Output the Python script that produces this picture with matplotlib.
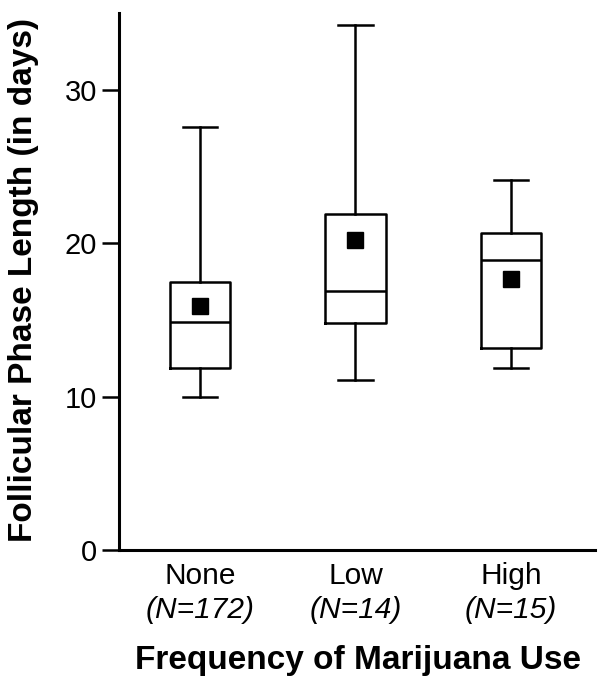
import matplotlib
matplotlib.use('Agg')
import matplotlib.pyplot as plt
from matplotlib.transforms import blended_transform_factory

plt.rcParams['font.family'] = ['Liberation Sans', 'DejaVu Sans']

# Box summary values (days)
groups = ['None', 'Low', 'High']
n_labels = ['(N=172)', '(N=14)', '(N=15)']
whisker_low = [10.0, 11.1, 11.9]
q1 = [11.9, 14.8, 13.2]
medians = [14.9, 16.9, 18.9]
q3 = [17.5, 21.9, 20.7]
whisker_high = [27.6, 34.2, 24.1]
means = [15.9, 20.2, 17.7]

stats = []
for i in range(len(groups)):
    stats.append({'label': groups[i], 'whislo': whisker_low[i], 'q1': q1[i],
                  'med': medians[i], 'q3': q3[i], 'whishi': whisker_high[i],
                  'fliers': []})

fig = plt.figure(figsize=(6.01, 6.88), dpi=100)
ax = fig.add_axes([0.198, 0.200, 0.792, 0.781])

positions = [1, 2, 3]
lw = 1.8
ax.bxp(stats, positions=positions, widths=0.39, showfliers=False,
       boxprops=dict(color='black', linewidth=lw),
       medianprops=dict(color='black', linewidth=lw),
       whiskerprops=dict(color='black', linewidth=lw),
       capprops=dict(color='black', linewidth=lw),
       capwidths=0.22)
ax.plot(positions, means, linestyle='none', marker='s', color='black',
        markersize=11)

ax.set_xlim(0.48, 3.54)
ax.set_ylim(0, 35)
ax.set_yticks([0, 10, 20, 30])
ax.tick_params(axis='y', labelsize=21, length=12, width=lw, direction='out', pad=4)
ax.tick_params(axis='x', length=0, labelsize=21.5, pad=8)
ax.set_xticks(positions)
ax.set_xticklabels(groups)

for s in ['top', 'right']:
    ax.spines[s].set_visible(False)
for s in ['left', 'bottom']:
    ax.spines[s].set_linewidth(2.2)

trans = blended_transform_factory(ax.transData, fig.transFigure)
for x, lab in zip(positions, n_labels):
    ax.text(x, 1 - 610 / 688, lab, transform=trans, ha='center', va='center',
            fontsize=21.5, style='italic')

fig.text(0.595, 1 - 660 / 688, 'Frequency of Marijuana Use', ha='center',
         va='center', fontsize=24, fontweight='bold')
fig.text(24 / 601, 1 - 280 / 688, 'Follicular Phase Length (in days)',
         rotation=90, ha='center', va='center', fontsize=24, fontweight='bold')

fig.savefig('out.png', dpi=100)
